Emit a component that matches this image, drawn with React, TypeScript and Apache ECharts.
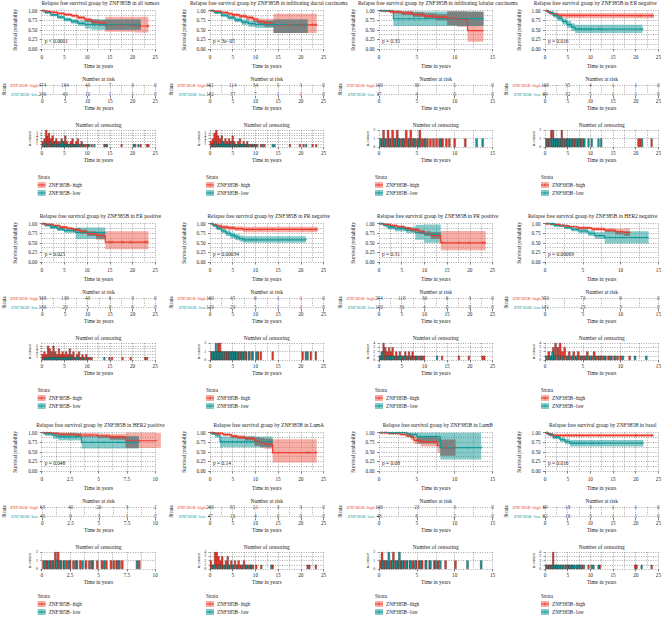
import React, { useEffect, useRef } from 'react';
import * as echarts from 'echarts';

// ---------------- data ----------------
const titles = [
  'Relapse free survival group by ZNF385B in all tumors',
  'Relapse free survival group by ZNF385B in infiltrating ductal carcinoma',
  'Relapse free survival group by ZNF385B in infiltrating lobular carcinoma',
  'Relapse free survival group by ZNF385B in ER negative',
  'Relapse free survival group by ZNF385B in ER positive',
  'Relapse free survival group by ZNF385B in PR negative',
  'Relapse free survival group by ZNF385B in PR positive',
  'Relapse free survival group by ZNF385B in HER2 negative',
  'Relapse free survival group by ZNF385B in HER2 positive',
  'Relapse free survival group by ZNF385B in LumA',
  'Relapse free survival group by ZNF385B in LumB',
  'Relapse free survival group by ZNF385B in basal',
];
const pValues = ['p < 0.0001', 'p = 3e−05', 'p = 0.35', 'p = 0.016', 'p = 0.025', 'p = 0.00034',
  'p = 0.31', 'p = 0.00069', 'p = 0.048', 'p = 0.14', 'p = 0.08', 'p = 0.016'];
const xMaxes = [25, 25, 15, 25, 25, 25, 25, 15, 10, 25, 15, 25];
const xSteps = [5, 5, 5, 5, 5, 5, 5, 5, 2.5, 5, 5, 5];
const censorMaxes = [6, 6, 2, 2, 6, 2, 4, 4, 2, 4, 2, 4];
const HIGH = 'ZNF385B−high';
const LOW = 'ZNF385B−low';

// KM rows: [time, survival, lower, upper]
const km1High = [[0,1,1,1],[0.8,0.98,0.97,0.99],[2,0.96,0.94,0.98],[3.5,0.93,0.9,0.95],[5,0.9,0.87,0.93],[6.5,0.87,0.83,0.9],[8,0.82,0.77,0.86],[9.5,0.77,0.71,0.82],[11,0.71,0.64,0.78],[12.5,0.68,0.6,0.76],[14,0.63,0.45,0.84],[20.5,0.6,0.43,0.84],[23.5,0.6,0.43,0.84]];
const km1Low = [[0,1,1,1],[0.8,0.95,0.93,0.97],[2,0.89,0.86,0.92],[3.5,0.83,0.79,0.87],[5,0.77,0.72,0.82],[6.5,0.72,0.66,0.78],[8,0.67,0.6,0.74],[9.5,0.64,0.53,0.76],[11,0.63,0.5,0.77],[21.8,0.63,0.5,0.77]];
const km2High = [[0,1,1,1],[1,0.98,0.96,1],[2.5,0.95,0.92,0.98],[4,0.92,0.88,0.95],[5,0.89,0.85,0.93],[6.5,0.86,0.81,0.9],[8,0.82,0.76,0.87],[9.5,0.77,0.7,0.83],[10.5,0.72,0.63,0.8],[12,0.68,0.58,0.79],[14,0.63,0.42,0.92],[23.5,0.63,0.42,0.92]];
const km2Low = [[0,1,1,1],[1,0.95,0.92,0.98],[2.5,0.88,0.84,0.92],[4,0.82,0.77,0.87],[5.5,0.76,0.7,0.82],[7,0.7,0.63,0.77],[8.5,0.66,0.58,0.74],[10,0.64,0.55,0.74],[14,0.63,0.42,0.77],[21.5,0.63,0.42,0.77]];
const km3High = [[0,1,1,1],[0.5,0.99,0.97,1],[1.5,0.97,0.93,1],[3,0.94,0.89,0.99],[4.5,0.9,0.84,0.96],[6,0.86,0.79,0.93],[7.5,0.83,0.75,0.91],[9,0.8,0.62,0.98],[10.3,0.77,0.58,0.98],[11.7,0.48,0.19,0.97],[13.8,0.48,0.19,0.97]];
const km3Low = [[0,1,1,1],[1.9,0.79,0.6,0.98],[13.8,0.79,0.57,0.98]];
const km4High = [[0,1,1,1],[0.5,0.97,0.95,1],[1.2,0.93,0.89,0.97],[2,0.9,0.85,0.95],[3,0.88,0.82,0.94],[4.5,0.87,0.8,0.94],[24,0.87,0.8,0.94]];
const km4Low = [[0,1,1,1],[0.8,0.95,0.91,0.99],[1.8,0.88,0.82,0.94],[2.8,0.8,0.73,0.87],[3.8,0.72,0.64,0.8],[4.8,0.64,0.55,0.73],[5.8,0.57,0.47,0.67],[6.6,0.52,0.42,0.63],[21.5,0.52,0.42,0.63]];
const km5High = [[0,1,1,1],[1,0.98,0.97,0.99],[2.5,0.95,0.93,0.97],[4,0.91,0.88,0.94],[5.5,0.88,0.85,0.91],[7,0.84,0.8,0.88],[8.5,0.79,0.74,0.84],[10,0.74,0.68,0.8],[12,0.69,0.58,0.79],[14,0.52,0.33,0.8],[23.5,0.52,0.33,0.8]];
const km5Low = [[0,1,1,1],[0.8,0.96,0.93,0.99],[2,0.91,0.87,0.95],[3.5,0.86,0.81,0.91],[5,0.82,0.76,0.88],[7.5,0.77,0.6,0.9],[14,0.77,0.6,0.9]];
const km6High = [[0,1,1,1],[0.7,0.97,0.94,1],[1.5,0.94,0.9,0.98],[2.5,0.91,0.86,0.96],[4,0.89,0.83,0.94],[5.5,0.87,0.81,0.93],[7.3,0.85,0.78,0.92],[23.7,0.85,0.78,0.92]];
const km6Low = [[0,1,1,1],[0.7,0.95,0.91,0.99],[1.5,0.88,0.83,0.93],[2.5,0.81,0.75,0.87],[3.5,0.75,0.68,0.82],[4.5,0.7,0.62,0.77],[5.5,0.65,0.57,0.73],[6.5,0.61,0.53,0.69],[7.3,0.58,0.5,0.67],[21.1,0.58,0.5,0.67]];
const km7High = [[0,1,1,1],[1,0.98,0.97,0.99],[2.5,0.95,0.93,0.97],[4,0.92,0.89,0.95],[5.5,0.88,0.85,0.91],[7,0.84,0.8,0.88],[8.8,0.78,0.73,0.83],[10,0.74,0.68,0.8],[11.4,0.69,0.6,0.78],[13.6,0.5,0.31,0.81],[23.5,0.5,0.31,0.81]];
const km7Low = [[0,1,1,1],[1,0.96,0.92,1],[2,0.91,0.85,0.97],[3.5,0.87,0.8,0.94],[6,0.83,0.75,0.91],[8,0.77,0.58,0.97],[10,0.73,0.5,0.98],[13.6,0.73,0.5,0.98]];
const km8High = [[0,1,1,1],[0.8,0.98,0.97,0.99],[2,0.95,0.93,0.97],[3.2,0.92,0.9,0.94],[4.4,0.89,0.86,0.92],[6.2,0.86,0.82,0.9],[7.9,0.83,0.78,0.88],[9.3,0.79,0.72,0.87],[10.5,0.77,0.68,0.88],[11.2,0.77,0.68,0.88]];
const km8Low = [[0,1,1,1],[1.3,0.95,0.92,0.98],[2.6,0.9,0.86,0.94],[3.5,0.85,0.8,0.9],[4.4,0.81,0.75,0.87],[5.7,0.75,0.68,0.82],[6.6,0.69,0.6,0.78],[7.9,0.64,0.48,0.8],[13.7,0.64,0.48,0.8]];
const km9High = [[0,1,1,1],[0.8,0.98,0.95,1],[1.5,0.96,0.92,1],[3,0.94,0.89,0.99],[4.9,0.92,0.86,0.98],[6,0.89,0.82,0.97],[7.4,0.79,0.6,1],[10.5,0.79,0.6,1]];
const km9Low = [[0,1,1,1],[0.3,0.97,0.92,1],[1,0.92,0.84,1],[1.45,0.89,0.8,0.98],[3.5,0.75,0.59,0.91],[8.55,0.75,0.59,0.91]];
const km10High = [[0,1,1,1],[1.1,0.98,0.96,1],[2.9,0.95,0.92,0.98],[4.7,0.91,0.87,0.95],[6,0.88,0.84,0.93],[7.7,0.85,0.8,0.9],[9.8,0.78,0.66,0.88],[11,0.74,0.62,0.86],[12,0.7,0.58,0.84],[13.8,0.48,0.22,0.83],[23.5,0.48,0.22,0.83]];
const km10Low = [[0,1,1,1],[0.4,0.98,0.94,1],[1.1,0.94,0.87,1],[2.2,0.76,0.62,0.9],[13.8,0.76,0.62,0.9]];
const km11High = [[0,1,1,1],[1.3,0.98,0.95,1],[2.8,0.96,0.92,1],[3.5,0.94,0.89,0.99],[4.2,0.88,0.81,0.95],[4.6,0.8,0.71,0.89],[5.5,0.76,0.64,0.88],[7.7,0.67,0.48,0.86],[8.1,0.61,0.4,0.82],[10.1,0.61,0.4,0.82]];
const km11Low = [[0,1,1,1],[3.7,0.96,0.88,1],[5,0.9,0.72,1],[8.1,0.61,0.3,1],[13.5,0.61,0.3,1]];
const km12High = [[0,1,1,1],[0.4,0.97,0.94,1],[1.1,0.95,0.91,0.99],[1.8,0.93,0.89,0.97],[23.9,0.93,0.89,0.97]];
const km12Low = [[0,1,1,1],[0.7,0.95,0.91,0.99],[1.8,0.88,0.83,0.93],[3.3,0.82,0.76,0.88],[4.4,0.77,0.7,0.84],[5.5,0.73,0.64,0.81],[21.7,0.73,0.64,0.81]];

// number at risk (at each x tick)
const r1High = [474,164,43,7,3,0], r1Low = [236,40,10,1,1,0];
const r2High = [401,114,34,5,3,0], r2Low = [182,37,7,1,1,0];
const r3High = [100,39,5,0], r3Low = [37,4,0,0];
const r4High = [106,35,4,1,1,0], r4Low = [69,32,5,1,1,0];
const r5High = [338,139,43,6,3,0], r5Low = [136,20,5,0,0,0];
const r6High = [160,45,6,1,1,0], r6Low = [120,20,5,1,1,0];
const r7High = [294,118,36,6,3,0], r7Low = [100,30,4,0,0,0];
const r8High = [350,73,9,0], r8Low = [131,23,3,0];
const r9High = [63,40,20,3,2], r9Low = [40,9,3,1,0];
const r10High = [266,85,21,3,3,0], r10Low = [47,10,4,0,0,0];
const r11High = [106,23,3,0], r11Low = [48,6,2,0];
const r12High = [69,18,3,1,1,0], r12Low = [62,16,3,1,1,0];

// number of censoring: [time, count]
const c1High = [[0.2,2],[0.6,3],[1.0,6],[1.3,4],[1.6,5],[2.0,3],[2.4,4],[2.8,2],[3.2,3],[3.6,2],[4.0,2],[4.4,3],[4.8,2],[5.2,4],[5.6,2],[6.0,1],[6.4,2],[6.8,3],[7.2,1],[7.6,2],[8.0,3],[8.4,1],[8.8,2],[9.2,1],[9.6,1],[10.0,1],[10.4,1],[11.0,1],[13.8,1],[17.6,1],[20.3,1],[21.8,1],[23.2,1],[23.5,1]];
const c1Low = [[0.4,1],[0.8,2],[1.2,1],[1.8,2],[2.2,1],[2.6,1],[3.0,2],[3.4,1],[3.8,1],[4.2,1],[4.6,2],[5.0,1],[5.4,1],[5.8,1],[6.2,1],[6.6,1],[7.0,1],[7.4,1],[7.8,1],[8.2,1],[9.0,1],[10.2,1],[11.6,1],[14.1,1],[14.4,1],[20.6,1],[21.3,1]];
const c2High = [[0.2,2],[0.6,3],[1.0,5],[1.4,6],[1.8,4],[2.2,3],[2.6,4],[3.0,2],[3.4,3],[3.8,2],[4.2,3],[4.6,2],[5.0,4],[5.4,2],[5.8,1],[6.2,2],[6.6,3],[7.0,1],[7.4,2],[7.8,1],[8.2,2],[8.6,1],[9.0,1],[9.4,1],[9.8,1],[10.4,1],[11.2,1],[12.0,1],[17.6,1],[19.8,1],[20.6,1],[22.6,1],[23.4,1]];
const c2Low = [[0.4,1],[0.8,1],[1.2,2],[1.6,1],[2.0,1],[2.4,1],[2.8,2],[3.2,1],[3.6,1],[4.0,1],[4.4,1],[4.8,2],[5.2,1],[5.6,1],[6.0,1],[6.4,1],[6.8,1],[7.2,1],[7.8,1],[8.4,1],[9.2,1],[10.0,1],[11.6,1],[13.8,1],[14.2,1],[21.2,1]];
const c3High = [[0.3,1],[0.6,2],[0.9,1],[1.2,2],[1.5,1],[1.8,2],[2.1,1],[2.4,2],[2.7,1],[3.0,1],[3.3,1],[3.6,2],[3.9,1],[4.2,2],[4.5,1],[4.8,1],[5.1,1],[5.4,2],[5.7,1],[6.0,1],[6.4,1],[6.8,1],[7.2,1],[7.6,1],[8.0,1],[8.4,1],[8.9,1],[9.3,1],[10.0,1],[11.4,1]];
const c3Low = [[0.2,1],[0.7,1],[1.4,1],[2.0,1],[2.6,1],[3.2,1],[4.0,1],[4.6,1],[5.3,1],[6.1,1],[8.2,1],[12.9,1],[13.7,1]];
const c4High = [[0.3,1],[0.8,1],[1.4,2],[1.8,2],[2.3,1],[2.8,1],[3.3,1],[3.7,2],[4.2,1],[4.8,1],[5.4,1],[6.0,1],[6.6,1],[7.2,1],[7.8,1],[8.4,1],[20.6,1],[21.0,1],[23.5,1]];
const c4Low = [[0.5,1],[1.0,1],[1.6,1],[2.1,1],[2.6,1],[3.1,1],[3.6,1],[4.1,1],[4.6,1],[5.1,1],[5.6,1],[6.2,1],[6.8,1],[7.4,1],[8.0,1],[8.7,1],[9.6,1],[10.3,1],[11.8,1],[12.4,1],[21.4,1]];
const c5High = [[0.2,2],[0.6,3],[1.0,2],[1.4,5],[1.8,4],[2.2,3],[2.6,5],[3.0,3],[3.4,2],[3.8,4],[4.2,2],[4.6,3],[5.0,2],[5.4,3],[5.8,2],[6.2,4],[6.6,2],[7.0,3],[7.4,1],[7.8,2],[8.2,3],[8.6,1],[9.0,2],[9.4,1],[9.8,2],[10.2,1],[10.6,1],[11.0,1],[14.9,1],[15.5,1],[17.8,1],[19.6,1],[22.8,1],[23.2,1]];
const c5Low = [[0.4,1],[0.8,1],[1.2,1],[1.6,1],[2.0,1],[2.4,1],[2.8,1],[3.2,1],[3.6,1],[4.0,1],[4.5,1],[5.0,1],[5.5,1],[6.0,1],[6.5,1],[7.0,1],[7.6,1],[8.2,1],[9.0,1],[10.0,1],[13.8,1]];
const c6High = [[0.3,1],[0.8,1],[1.3,1],[1.8,2],[2.2,2],[2.6,1],[3.1,1],[3.6,1],[4.1,1],[4.6,1],[5.1,1],[5.6,1],[6.2,1],[6.8,1],[7.4,1],[8.0,1],[8.7,1],[9.4,1],[10.6,1],[11.2,1],[13.8,1],[20.4,1],[22.2,1],[23.3,1]];
const c6Low = [[0.5,1],[1.0,1],[1.3,2],[1.6,1],[2.0,1],[2.4,1],[2.9,1],[3.4,1],[3.9,1],[4.4,1],[4.9,1],[5.4,1],[5.9,1],[6.5,1],[7.1,1],[7.8,1],[8.6,1],[9.3,1],[10.2,1],[21.1,1],[21.5,1]];
const c7High = [[0.2,1],[0.6,2],[1.0,4],[1.4,3],[1.8,2],[2.2,3],[2.6,2],[3.0,3],[3.4,1],[3.8,2],[4.2,1],[4.6,2],[5.0,1],[5.4,1],[5.8,2],[6.2,1],[6.6,2],[7.0,1],[7.4,2],[7.8,1],[8.2,1],[8.6,1],[9.0,1],[9.5,1],[9.9,1],[13.9,1],[17.6,1],[19.8,1],[22.8,1],[23.2,1]];
const c7Low = [[0.4,1],[0.9,2],[1.5,1],[2.0,1],[2.5,1],[3.0,1],[3.6,1],[4.2,1],[4.8,1],[5.5,1],[6.3,1],[7.2,1],[8.2,1],[9.3,1],[12.8,1]];
const c8High = [[0.2,1],[0.5,2],[0.8,1],[1.1,3],[1.4,4],[1.7,3],[2.0,4],[2.3,2],[2.6,3],[2.9,1],[3.2,2],[3.5,1],[3.8,2],[4.1,1],[4.4,2],[4.7,1],[5.0,1],[5.3,1],[5.6,2],[5.9,1],[6.2,1],[6.5,2],[6.8,1],[7.1,1],[7.4,1],[7.7,1],[8.0,1],[8.4,1],[8.8,1],[9.2,1],[9.6,1],[10.0,1],[11.2,1]];
const c8Low = [[0.3,1],[0.7,1],[1.0,2],[1.3,1],[1.9,1],[2.4,1],[3.0,1],[3.6,1],[4.2,1],[4.8,1],[5.4,1],[6.0,1],[6.6,1],[7.2,1],[7.9,1],[8.6,1],[9.3,1],[10.3,1],[11.9,1],[13.4,1]];
const c9High = [[0.15,1],[0.45,1],[0.75,1],[1.0,1],[1.2,2],[1.45,2],[1.7,1],[1.95,1],[2.2,1],[2.5,1],[2.8,1],[3.1,1],[3.4,1],[3.9,1],[4.2,1],[4.5,1],[4.9,1],[5.3,1],[5.7,1],[6.1,1],[6.35,1],[6.6,1],[6.85,1],[7.1,1],[8.6,1]];
const c9Low = [[0.3,1],[0.6,1],[0.9,1],[1.3,1],[1.6,1],[2.0,1],[2.4,1],[3.0,1],[3.6,1],[4.4,1],[5.5,1],[6.7,1],[8.4,1]];
const c10High = [[0.2,2],[0.6,1],[1.1,4],[1.5,4],[1.9,3],[2.3,2],[2.7,3],[3.1,1],[3.5,2],[3.9,3],[4.3,1],[4.7,2],[5.1,1],[5.5,2],[5.9,1],[6.3,2],[6.7,1],[7.1,1],[7.5,2],[7.9,1],[8.3,1],[8.7,1],[9.1,1],[9.5,1],[10.2,1],[11.3,1],[13.8,1],[21.5,1],[21.9,1],[23.3,1]];
const c10Low = [[0.4,1],[0.9,1],[1.7,1],[2.5,1],[3.3,1],[4.1,1],[5.0,1],[6.0,1],[7.0,1],[8.0,1],[9.0,1],[13.5,1]];
const c11High = [[0.2,1],[0.4,2],[0.7,1],[1.0,1],[1.3,1],[1.6,1],[1.9,2],[2.2,1],[2.5,1],[2.9,1],[3.3,1],[3.7,1],[4.1,1],[4.5,1],[4.9,1],[5.3,1],[5.7,1],[6.2,1],[6.7,1],[7.3,1],[7.8,1],[8.8,1],[10.1,1]];
const c11Low = [[0.5,1],[0.9,1],[1.3,2],[1.8,1],[2.3,1],[2.7,2],[3.1,1],[3.6,1],[4.2,1],[4.8,1],[5.5,1],[6.2,1],[6.8,1],[7.5,1],[8.1,1],[11.7,1],[13.5,1]];
const c12High = [[0.3,1],[0.8,1],[1.3,1],[1.8,4],[2.3,1],[2.8,1],[3.4,1],[4.0,1],[4.6,1],[5.2,1],[5.8,1],[6.4,1],[7.0,1],[7.6,1],[8.2,1],[9.6,1],[12.1,1],[19.9,1],[20.2,1],[23.5,1]];
const c12Low = [[0.5,1],[1.0,1],[1.5,1],[2.0,1],[2.5,1],[3.0,1],[3.5,1],[4.0,1],[4.5,1],[5.0,1],[5.5,1],[6.0,1],[6.5,1],[7.0,1],[7.5,1],[8.0,1],[8.6,1],[10.3,1],[10.7,1],[11.8,1],[21.3,1]];

const kmHigh = [km1High, km2High, km3High, km4High, km5High, km6High, km7High, km8High, km9High, km10High, km11High, km12High];
const kmLow = [km1Low, km2Low, km3Low, km4Low, km5Low, km6Low, km7Low, km8Low, km9Low, km10Low, km11Low, km12Low];
const riskHigh = [r1High, r2High, r3High, r4High, r5High, r6High, r7High, r8High, r9High, r10High, r11High, r12High];
const riskLow = [r1Low, r2Low, r3Low, r4Low, r5Low, r6Low, r7Low, r8Low, r9Low, r10Low, r11Low, r12Low];
const censHigh = [c1High, c2High, c3High, c4High, c5High, c6High, c7High, c8High, c9High, c10High, c11High, c12High];
const censLow = [c1Low, c2Low, c3Low, c4Low, c5Low, c6Low, c7Low, c8Low, c9Low, c10Low, c11Low, c12Low];

// ---------------- style / layout ----------------
const FONT = "'Liberation Serif', 'Times New Roman', serif";
const RED = '#EC3B2E';
const TEAL = '#159A9A';
const RED_BAND = 'rgba(240,108,92,0.55)';
const TEAL_BAND = 'rgba(34,158,158,0.55)';
const OVERLAP = 'rgba(122,122,122,0.8)';
const GRID_LINE = { type: [1, 1.4], color: '#6e6e6e', width: 0.6 };
const COL_X = [41.7, 210, 379, 545];
const ROW_T = [0, 213, 422];
const PW = 113.5;
const PLUS = 'path://M4,0H6V4H10V6H6V10H4V6H0V4H4Z';

function bandRects(rows) {
  const out = [];
  for (let i = 0; i < rows.length - 1; i++) {
    const t0 = rows[i][0], t1 = rows[i + 1][0], lo = rows[i][2], hi = rows[i][3];
    if (t1 > t0 && hi > lo) out.push([t0, t1, lo, hi]);
  }
  return out;
}
function overlapRects(a, b) {
  const A = bandRects(a), B = bandRects(b), out = [];
  for (const p of A) for (const q of B) {
    const t0 = Math.max(p[0], q[0]), t1 = Math.min(p[1], q[1]);
    const lo = Math.max(p[2], q[2]), hi = Math.min(p[3], q[3]);
    if (t1 > t0 && hi > lo) out.push([t0, t1, lo, hi]);
  }
  return out;
}
function survAt(rows, t) {
  let s = rows[0][1];
  for (const r of rows) if (r[0] <= t) s = r[1];
  return s;
}
function censorMarks(rows, cens) {
  const end = rows[rows.length - 1][0];
  return cens.filter((c) => c[0] <= end).map((c) => [c[0], survAt(rows, c[0])]);
}
function rectSeries(axis, data, fill, z) {
  return {
    type: 'custom', xAxisIndex: axis, yAxisIndex: axis, data, z, silent: true,
    encode: { x: [0, 1], y: [2, 3] },
    renderItem: (params, api) => {
      const p0 = api.coord([api.value(0), api.value(3)]);
      const p1 = api.coord([api.value(1), api.value(2)]);
      return { type: 'rect', shape: { x: p0[0], y: p0[1], width: p1[0] - p0[0], height: p1[1] - p0[1] }, style: { fill } };
    },
  };
}
const txt = { fontFamily: FONT, color: '#222' };
function xCfg(gi, xmax, step, margin, gap) {
  return {
    type: 'value', gridIndex: gi, min: 0, max: xmax, interval: step, offset: 2,
    axisLine: { show: false },
    axisTick: { show: true, length: 2.5, lineStyle: { color: '#333', width: 0.6 } },
    axisLabel: { ...txt, fontSize: 5.2, margin },
    splitLine: { show: true, lineStyle: GRID_LINE },
    minorTick: { show: false, splitNumber: 2 },
    minorSplitLine: { show: true, lineStyle: GRID_LINE },
    name: 'Time in years', nameLocation: 'middle', nameGap: gap,
    nameTextStyle: { ...txt, fontSize: 5.4 },
  };
}

function buildOption() {
  const grid = [], xAxis = [], yAxis = [], series = [], graphic = [];
  for (let i = 0; i < 12; i++) {
    const c = i % 4, r = Math.floor(i / 4);
    const L = COL_X[c], T = ROW_T[r];
    const xmax = xMaxes[i], step = xSteps[i];
    const gk = 3 * i, gr = 3 * i + 1, gc = 3 * i + 2;
    const cx = L + PW / 2;
    const barW = xmax === 25 ? 2 : 2.3;
    grid.push({ left: L, top: T + 10.7, width: PW, height: 38.3 });
    grid.push({ left: L, top: T + 85, width: PW, height: 9 });
    grid.push({ left: L, top: T + 130, width: PW, height: 17 });
    xAxis.push(xCfg(gk, xmax, step, 3.4, 12.4));
    xAxis.push(xCfg(gr, xmax, step, 2.4, 9.4));
    xAxis.push(xCfg(gc, xmax, step, 1.2, 8.4));
    yAxis.push({
      type: 'value', gridIndex: gk, min: 0, max: 1, interval: 0.25, offset: 2.4,
      axisLine: { show: false },
      axisTick: { show: true, length: 2, lineStyle: { color: '#333', width: 0.6 } },
      axisLabel: { ...txt, fontSize: 5.2, margin: 2, formatter: (v) => v.toFixed(2) },
      splitLine: { show: true, lineStyle: GRID_LINE },
      minorTick: { show: false, splitNumber: 2 },
      minorSplitLine: { show: true, lineStyle: GRID_LINE },
      name: 'Survival probability', nameLocation: 'middle', nameGap: 21.5, nameRotate: 90,
      nameTextStyle: { ...txt, fontSize: 5.2 },
    });
    yAxis.push({
      type: 'category', gridIndex: gr, data: [LOW, HIGH], boundaryGap: false, offset: 2.4,
      axisLine: { show: false },
      axisTick: { show: true, length: 2, lineStyle: { color: '#333', width: 0.6 } },
      axisLabel: { fontFamily: FONT, fontSize: 4.4, margin: 2, color: (v) => (v === HIGH ? RED : TEAL) },
      splitLine: { show: true, interval: 0, lineStyle: GRID_LINE },
      name: 'Strata', nameLocation: 'middle', nameGap: 33.5, nameRotate: 90,
      nameTextStyle: { ...txt, fontSize: 5.2 },
    });
    yAxis.push({
      type: 'value', gridIndex: gc, min: 0, max: censorMaxes[i], interval: 1, offset: 2.4,
      axisLine: { show: false },
      axisTick: { show: true, length: 1.5, lineStyle: { color: '#333', width: 0.5 } },
      axisLabel: { ...txt, fontSize: 3.8, margin: 1.5 },
      splitLine: { show: true, lineStyle: GRID_LINE },
      name: 'n.censor', nameLocation: 'middle', nameGap: 7.5, nameRotate: 90,
      nameTextStyle: { ...txt, fontSize: 4.4 },
    });

    const hi = kmHigh[i], lo = kmLow[i];
    series.push(rectSeries(gk, bandRects(hi), RED_BAND, 1));
    series.push(rectSeries(gk, bandRects(lo), TEAL_BAND, 1));
    series.push(rectSeries(gk, overlapRects(hi, lo), OVERLAP, 2));
    series.push({ type: 'line', name: HIGH, xAxisIndex: gk, yAxisIndex: gk, step: 'end', symbol: 'none', z: 3,
      data: hi.map((row) => [row[0], row[1]]), lineStyle: { color: RED, width: 1.2 } });
    series.push({ type: 'line', name: LOW, xAxisIndex: gk, yAxisIndex: gk, step: 'end', symbol: 'none', z: 3,
      data: lo.map((row) => [row[0], row[1]]), lineStyle: { color: TEAL, width: 1.2 } });
    series.push({ type: 'scatter', xAxisIndex: gk, yAxisIndex: gk, symbol: PLUS, symbolSize: 3, z: 4,
      data: censorMarks(hi, censHigh[i]), itemStyle: { color: RED } });
    series.push({ type: 'scatter', xAxisIndex: gk, yAxisIndex: gk, symbol: PLUS, symbolSize: 3, z: 4,
      data: censorMarks(lo, censLow[i]), itemStyle: { color: TEAL } });

    const nTicks = Math.round(xmax / step);
    const riskData = [];
    for (let j = 0; j <= nTicks; j++) {
      riskData.push([j * step, HIGH, riskHigh[i][j]]);
      riskData.push([j * step, LOW, riskLow[i][j]]);
    }
    series.push({ type: 'scatter', xAxisIndex: gr, yAxisIndex: gr, symbolSize: 1, z: 5, data: riskData,
      itemStyle: { color: 'rgba(0,0,0,0)' },
      label: { show: true, position: 'inside', formatter: (p) => String(p.value[2]), fontFamily: FONT, fontSize: 5.2, color: '#111' } });

    series.push({ type: 'bar', xAxisIndex: gc, yAxisIndex: gc, data: censHigh[i], barWidth: barW, barGap: '-100%', z: 2,
      itemStyle: { color: RED, borderColor: 'rgba(60,15,15,0.8)', borderWidth: 0.4 } });
    series.push({ type: 'bar', xAxisIndex: gc, yAxisIndex: gc, data: censLow[i], barWidth: barW, barGap: '-100%', z: 2,
      itemStyle: { color: TEAL, borderColor: 'rgba(15,40,40,0.8)', borderWidth: 0.4 } });

    const t = (text, x, y, size, align = 'center', fill = '#222') => ({
      type: 'text', x, y, silent: true,
      style: { text, font: `${size}px ${FONT}`, fill, textAlign: align, textVerticalAlign: 'middle' },
    });
    const titleX = c === 3 ? Math.min(cx + 2, 662 - titles[i].length * 1.26) : cx + 2;
    graphic.push(t(titles[i], titleX, T + 3, 5.4));
    graphic.push(t(pValues[i], L + 3, T + 10.7 + 0.8 * 38.3, 5.4, 'left'));
    graphic.push(t('Number at risk', cx, T + 79, 5.4));
    graphic.push(t('Number of censoring', cx, T + 125, 5.4));
    const ly = r === 2 ? T + 174 : T + 177;
    graphic.push(t('Strata', L - 4, ly, 5.2, 'left'));
    [[HIGH, RED, RED_BAND], [LOW, TEAL, TEAL_BAND]].forEach(([name, col, band], k) => {
      const yy = ly + 8 + k * 8;
      graphic.push({ type: 'rect', silent: true, shape: { x: L - 4, y: yy - 3, width: 8, height: 6 }, style: { fill: band } });
      graphic.push({ type: 'line', silent: true, shape: { x1: L - 4, y1: yy, x2: L + 4, y2: yy }, style: { stroke: col, lineWidth: 1 } });
      graphic.push({ type: 'line', silent: true, shape: { x1: L, y1: yy - 1.5, x2: L, y2: yy + 1.5 }, style: { stroke: col, lineWidth: 0.8 } });
      graphic.push(t(name, L + 7, yy, 5.2, 'left'));
    });
  }
  return { animation: false, backgroundColor: '#fff', grid, xAxis, yAxis, series, graphic };
}

export default function App() {
  const ref = useRef(null);
  useEffect(() => {
    const chart = echarts.init(ref.current, null, { renderer: 'svg' });
    chart.setOption(buildOption());
    return () => chart.dispose();
  }, []);
  return <div ref={ref} style={{ width: 664, height: 618, position: 'absolute', left: 0, top: 0 }} />;
}
